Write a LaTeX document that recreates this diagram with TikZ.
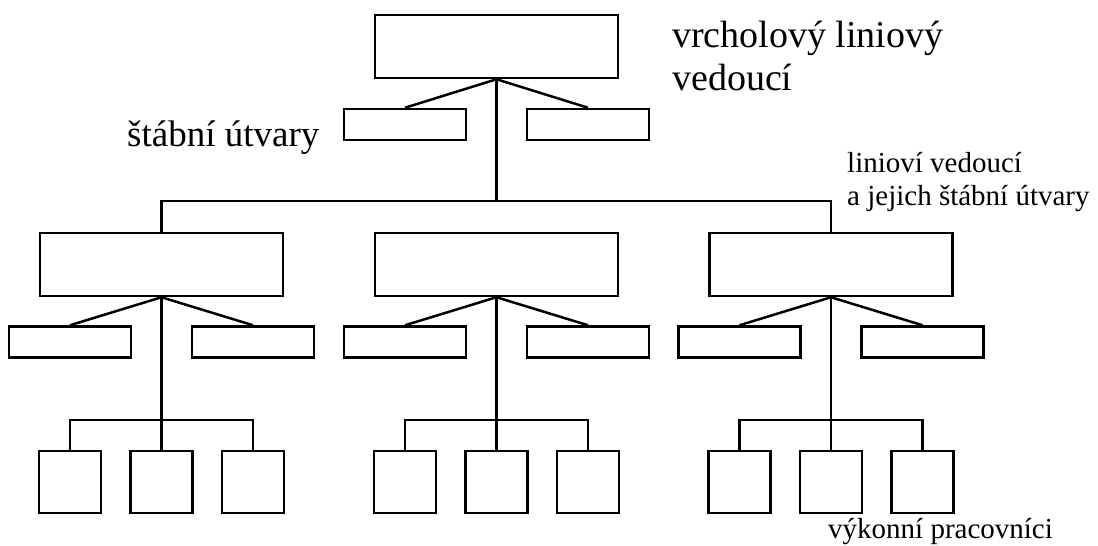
\documentclass[tikz,border=0pt]{standalone}
\usepackage{fontspec}
\setmainfont{Liberation Serif}
\usetikzlibrary{positioning}
\tikzset{
    unit/.style={
        draw, line width=2.5pt, inner sep=0pt,
        minimum width=243pt, minimum height=63pt
    },
    staff/.style={
        draw, line width=2.5pt, inner sep=0pt,
        minimum width=122pt, minimum height=31pt
    },
    worker/.style={
        draw, line width=2.5pt, inner sep=0pt,
        minimum width=62pt, minimum height=62pt
    },
    link/.style={line width=2.5pt},
    % multi-line tags sit on the baseline of their last line
    tag/.style={anchor=base west, inner sep=0pt, align=left}
}

\begin{document}
\begin{tikzpicture}[x=1pt,y=-1pt]
\useasboundingbox (0,0) rectangle (1098,546);
% top line manager with its staff units
\node[unit] (top) at (496.5,46.5) {};
\node[staff] (top-L) at (405,124.5) {};
\node[staff] (top-R) at (588,124.5) {};
\draw[link] (top-L.north) -- (top.south) -- (top-R.north);
\coordinate (bus) at (496.5,201);
\draw[link] (top.south) -- (bus);
% three line managers, each with staff and workers
\foreach \g/\cx in {a/161.5,b/496.5,c/831}{
  \node[unit] (\g) at (\cx,264.5) {};
  \node[staff] (\g-L) at (\cx-91.5,342) {};
  \node[staff] (\g-R) at (\cx+91.5,342) {};
  \draw[link] (\g-L.north) -- (\g.south) -- (\g-R.north);
  \coordinate (\g-bus) at (\cx,420);
  \draw[link] (\g.south) -- (\g-bus);
  \node[worker] (\g-1) at (\cx-91.5,482) {};
  \node[worker] (\g-2) at (\cx,482) {};
  \node[worker] (\g-3) at (\cx+91.5,482) {};
  \draw[link] (\g-1.north) |- (\g-bus) -| (\g-3.north);
  \draw[link] (\g-bus) -- (\g-2.north);
}
\draw[link] (a.north) -- (a.north |- bus) -- (c.north |- bus) -- (c.north);
% labels
\node[tag, font=\fontsize{38}{43}\selectfont] (t-top) at (672,90)
  {vrcholový liniový\\vedoucí};
\node[tag, font=\fontsize{37}{42}\selectfont] (t-staff) at (127,146)
  {štábní útvary};
\node[tag, font=\fontsize{29}{33}\selectfont] (t-line) at (847,205)
  {linioví vedoucí\\a jejich štábní útvary};
\node[tag, font=\fontsize{29}{33}\selectfont] (t-work) at (828,538)
  {výkonní pracovníci};
\end{tikzpicture}
\end{document}
